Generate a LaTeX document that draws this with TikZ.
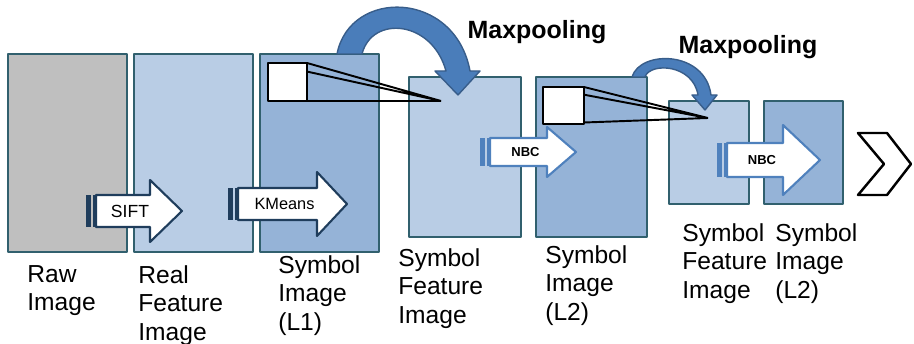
\documentclass[tikz,border=0pt]{standalone}
\usepackage{fontspec}
\setmainfont{Liberation Sans}

\definecolor{rim}{HTML}{31606E}
\definecolor{rawgray}{HTML}{BFBFBF}
\definecolor{pale}{HTML}{B9CDE5}
\definecolor{mid}{HTML}{95B3D7}
\definecolor{navy}{HTML}{1F3D5C}
\definecolor{nbcblue}{HTML}{4F81BD}
\definecolor{poolfill}{HTML}{4A7DBA}
\definecolor{pooledge}{HTML}{385D8A}

\begin{document}
\begin{tikzpicture}[x=0.02cm, y=-0.02cm, line join=round,
  panel/.style={line width=1.2pt, draw=rim},
  lab/.style={anchor=north west, inner sep=0pt, align=left, font=\fontsize{14}{16.2}\selectfont},
  pool/.style={fill=poolfill, draw=pooledge, line width=0.8pt},
  pooltext/.style={font=\fontsize{14.2}{16}\selectfont\bfseries}]
  \useasboundingbox (0,0) rectangle (914,344);
  % die Bildebenen
  \foreach \a/\b/\c/\d/\col in {8/54/127/252/rawgray, 134/54/253/252/pale, 260/54/379/252/mid,
      409/77/521/237/pale, 536/77/647/237/mid, 669/101/749/204/pale, 764/101/843/204/mid}
    \draw[panel, fill=\col] (\a,\b) rectangle (\c,\d);
  % Pyramiden
  \draw[line width=1.1pt] (268,63) -- (441,101) (307,63) -- (441,101) (268,101) -- (441,101);
  \draw[line width=1.1pt, fill=white] (268,63) rectangle (307,101);
  \draw[line width=1.1pt] (543,87) -- (708,118) (584,87) -- (708,118) (543,124) -- (708,118);
  \draw[line width=1.1pt, fill=white] (543,87) rectangle (584,124);
  % Maxpooling
  \draw[pool] (337,54) .. controls (350,-12) and (455,-10) .. (470,71) -- (480,71) -- (458,95)
    -- (435,71) -- (446,71) .. controls (432,20) and (372,15) .. (362,54) -- cycle;
  \draw[pool] (632,77) .. controls (640,50) and (705,50) .. (711,95) -- (717,95) -- (705,110)
    -- (692,95) -- (698,95) .. controls (693,64) and (650,62) .. (645,77) -- cycle;
  \node[pooltext] (pool1) at (537,32) {Maxpooling};
  \node[pooltext] (pool2) at (748,47) {Maxpooling};
  % Blockpfeile
  \foreach \l/\n/\t/\y/\b/\h/\edge/\sz/\wt/\lab [count=\i] in {86/150/182/211/16/31/navy/10/\mdseries/SIFT,
      228/317/347/204/16/32/navy/9.3/\mdseries/KMeans, 480/547/576/152/14/25/nbcblue/7.4/\bfseries/NBC,
      717/783/820/160/17/35/nbcblue/7.4/\bfseries/NBC} {
    \fill[\edge] (\l,{\y-\b}) rectangle ({\l+5},{\y+\b});
    \fill[\edge] ({\l+7},{\y-\b}) rectangle ({\l+9},{\y+\b});
    \draw[\edge, line width=1.2pt, fill=white] ({\l+10},{\y-\b}) -- (\n,{\y-\b}) -- (\n,{\y-\h})
      -- (\t,\y) -- (\n,{\y+\h}) -- (\n,{\y+\b}) -- ({\l+10},{\y+\b}) -- cycle;
    \node[font=\fontsize{\sz}{\sz}\selectfont\wt] (arrow\i) at ({(\l+\n)/2+12},\y) {\lab};
  }
  % weiter
  \draw[line width=1.4pt, fill=white] (858,133) -- (887,133) -- (911,164) -- (887,195) -- (858,195)
    -- (884,164) -- cycle;
  % Beschriftungen
  \foreach \x/\y/\txt [count=\i] in {27/265/Raw\\Image, 138/265/Real\\Feature\\Image, 278/255/Symbol\\Image\\(L1),
      398/248/Symbol\\Feature\\Image, 545/245/Symbol\\Image\\(L2), 682/223/Symbol\\Feature\\Image,
      775/223/Symbol\\Image\\(L2)}
    \node[lab] (name\i) at (\x,\y) {\txt};
\end{tikzpicture}
\end{document}
